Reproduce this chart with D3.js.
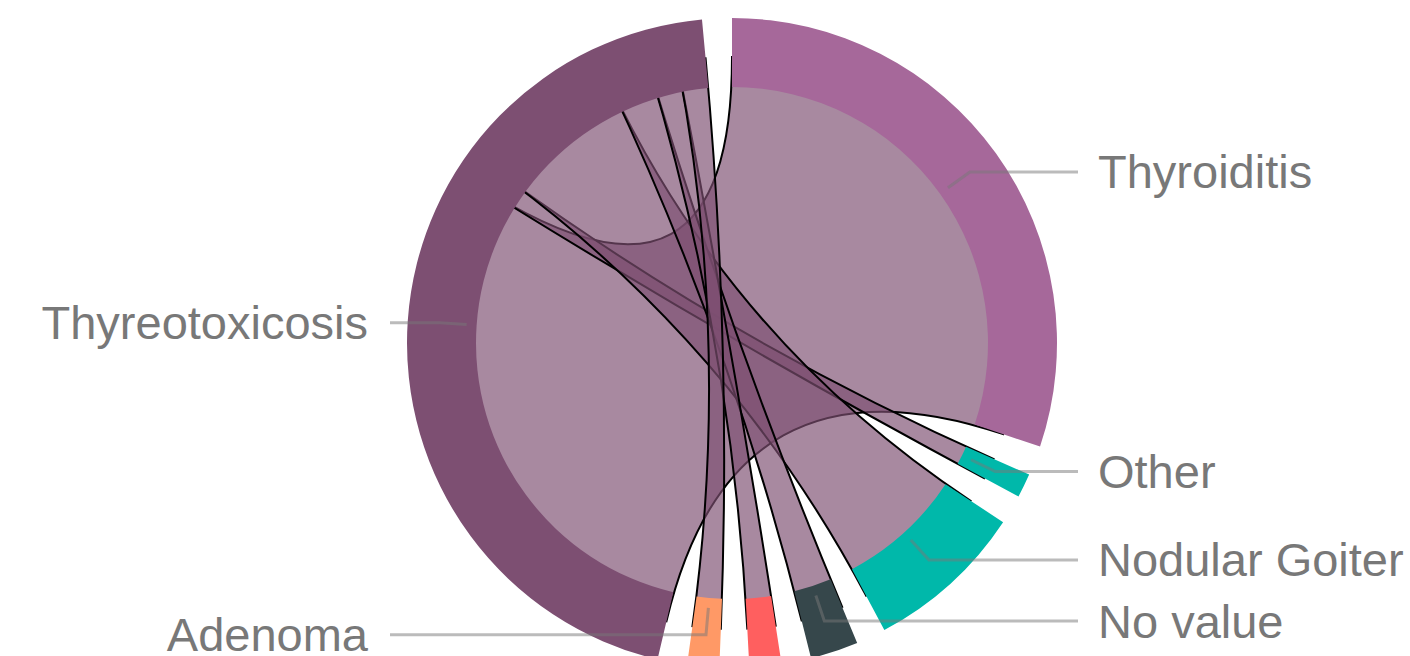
<!DOCTYPE html>
<html lang="en">
<head>
<meta charset="UTF-8">
<meta name="viewport" content="width=device-width, initial-scale=1.0">
<title>Diagnosis Chord</title>
<script src="https://d3js.org/d3.v7.min.js"></script>
<style>
  body { margin: 0; background: #fff; }
  .ribbon {
    stroke: #000;
    stroke-width: 2px;
    fill-opacity: 0.67;
  }
  .connector {
    fill: none;
    stroke: #777;
    stroke-opacity: 0.5;
    stroke-width: 3px;
  }
  .label {
    font-family: "Liberation Sans", Arial, sans-serif;
    font-size: 47px;
    fill: #787878;
  }
</style>
</head>
<body>

<svg id="chart" width="1410" height="656"></svg>

<script>
    // groups in clockwise order from 12 o'clock
    const categories = ["Thyroiditis", "Other", "Nodular Goiter", "No value", "", "Adenoma", "Thyreotoxicosis"];
    const colors = ["#a6689a", "#00b8aa", "#00b8aa", "#36474b", "#ff5f5f", "#ff9966", "#7d4f72"];
    // every group is linked only to Thyreotoxicosis
    const hubName = "Thyreotoxicosis";
    const linkValues = [76, 3, 20, 6, 4, 4, 0];

    const svg = d3.select("#chart");

    const cx = 732, cy = 343;
    const outerRadius = 325, innerRadius = 256, ribbonRadius = 286;

    const n = categories.length;
    const hub = categories.indexOf(hubName);
    const matrix = categories.map(() => new Array(n).fill(0));
    linkValues.forEach((v, i) => {
        if (i === hub) return;
        matrix[i][hub] = v;
        matrix[hub][i] = v;
    });

    const chord = d3.chord().padAngle(5.3 * Math.PI / 180);
    const chords = chord(matrix);

    const arc = d3.arc().innerRadius(innerRadius).outerRadius(outerRadius);
    const ribbon = d3.ribbon().radius(ribbonRadius);

    const g = svg.append("g")
        .attr("transform", `translate(${cx},${cy})`);

    // ribbons under the group bands
    g.append("g")
        .selectAll("path")
        .data(chords)
        .join("path")
        .attr("class", "ribbon")
        .attr("fill", colors[hub])
        .attr("d", ribbon);

    g.append("g")
        .selectAll("path")
        .data(chords.groups)
        .join("path")
        .attr("fill", d => colors[d.index])
        .attr("d", arc);

    // labels with elbow connectors
    const labelled = chords.groups.filter(d => categories[d.index] !== "");
    const r1 = 266, r2 = 293;
    const lineEndRight = 1078 - cx, lineEndLeft = 390 - cx;
    const textRight = 1098 - cx, textLeft = 368 - cx;

    const polar = (r, a) => [r * Math.sin(a), -r * Math.cos(a)];

    labelled.forEach(d => {
        const mid = (d.startAngle + d.endAngle) / 2;
        const right = Math.sin(mid) > 0;
        const p1 = polar(r1, mid), p2 = polar(r2, mid);
        const p3 = [right ? lineEndRight : lineEndLeft, p2[1]];

        g.append("path")
            .attr("class", "connector")
            .attr("d", d3.line()([p1, p2, p3]));

        g.append("text")
            .attr("class", "label")
            .attr("x", right ? textRight : textLeft)
            .attr("y", p2[1])
            .attr("dy", "0.35em")
            .attr("text-anchor", right ? "start" : "end")
            .text(categories[d.index]);
    });
</script>

</body>
</html>
